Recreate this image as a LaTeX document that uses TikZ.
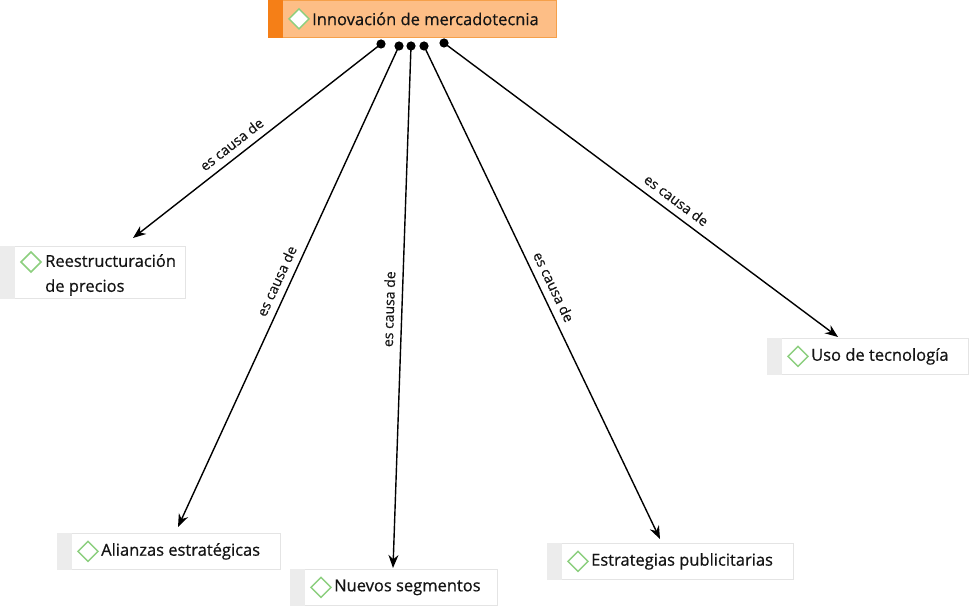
\documentclass[tikz,border=0pt]{standalone}
\usepackage{fontspec}
\setmainfont{Open Sans}
\newfontfamily\nodefont{Open Sans}[FakeBold=0.6]
\newfontfamily\labelfont{Open Sans}[FakeBold=0.4]
\usetikzlibrary{arrows.meta}
\definecolor{orlight}{HTML}{FDBE86}
\definecolor{orline}{HTML}{F5A04A}
\definecolor{ordark}{HTML}{F57F17}
\definecolor{stripgray}{HTML}{ECECEC}
\definecolor{boxline}{HTML}{E4E4E4}
\definecolor{diamgreen}{HTML}{8CCF7E}
\definecolor{txt}{HTML}{141414}
\tikzset{
 conbox/.style={draw=boxline, fill=white, line width=0.8pt, anchor=north west, inner sep=0pt},
 contxt/.style={anchor=west, inner sep=0pt, font=\nodefont\fontsize{16.5}{20}\selectfont, text=txt},
 lbltxt/.style={font=\labelfont\fontsize{14}{16}\selectfont, text=txt, sloped, above=7pt, inner sep=0pt},
 link/.style={line width=1.4pt, -{Stealth[length=13pt,width=10pt]}},
 diam/.style={draw=diamgreen, fill=white, line width=1.5pt, line join=miter}
}
\newcommand\diamondat[1]{\draw[diam] (#1) +(-10,0) -- +(0,10) -- +(10,0) -- +(0,-10) -- cycle;}
\newcommand\stripat[1]{\fill[stripgray] (#1.north west) rectangle ([xshift=15pt]#1.south west);}
\begin{document}
\begin{tikzpicture}[x=1pt,y=-1pt]
\useasboundingbox (0,0) rectangle (969,609);

% top concept
\node[conbox, draw=orline, fill=orlight, minimum width=288pt, minimum height=37pt] (top) at (268,0) {};
\fill[ordark] (top.north west) rectangle ([xshift=15pt]top.south west);
\diamondat{[xshift=31pt]top.west}
\node[contxt] (topt) at ([xshift=44pt]top.west) {Innovación de mercadotecnia};

% Reestructuracion
\node[conbox, minimum width=185pt, minimum height=52pt] (reest) at (0,246) {};
\stripat{reest}
\diamondat{31,262}
\node[contxt, align=left, font=\nodefont\fontsize{16.5}{25}\selectfont] (reestt) at (45,275) {Reestructuración\\de precios};

% Uso de tecnologia
\node[conbox, minimum width=201pt, minimum height=36pt] (uso) at (767,338) {};
\stripat{uso}
\diamondat{[xshift=31pt]uso.west}
\node[contxt] (usot) at ([xshift=44pt]uso.west) {Uso de tecnología};

% Alianzas
\node[conbox, minimum width=223pt, minimum height=36pt] (ali) at (57,533) {};
\stripat{ali}
\diamondat{[xshift=31pt]ali.west}
\node[contxt] (alit) at ([xshift=44pt]ali.west) {Alianzas estratégicas};

% Nuevos segmentos
\node[conbox, minimum width=207pt, minimum height=36pt] (nue) at (290,569) {};
\stripat{nue}
\diamondat{[xshift=31pt]nue.west}
\node[contxt] (nuet) at ([xshift=44pt]nue.west) {Nuevos segmentos};

% Estrategias publicitarias
\node[conbox, minimum width=246pt, minimum height=36pt] (est) at (547,543) {};
\stripat{est}
\diamondat{[xshift=31pt]est.west}
\node[contxt] (estt) at ([xshift=44pt]est.west) {Estrategias publicitarias};

% connector ends
\coordinate (s1) at (381,44);
\coordinate (s2) at (399,46);
\coordinate (s3) at (411,46);
\coordinate (s4) at (424,46);
\coordinate (s5) at (444,43);
\coordinate (t1) at (133,238);
\coordinate (t2) at (178,527);
\coordinate (t3) at (393,568);
\coordinate (t4) at (660,539);
\coordinate (t5) at (838,337);

\draw[link] (s1) -- node[lbltxt, pos=0.57] {es causa de} (t1);
\draw[link] (s2) -- node[lbltxt, pos=0.5] {es causa de} (t2);
\draw[link] (s3) -- node[lbltxt, pos=0.505] {es causa de} (t3);
\draw[link] (s4) -- node[lbltxt, pos=0.5] {es causa de} (t4);
\draw[link] (s5) -- node[lbltxt, pos=0.57] {es causa de} (t5);

\foreach \s in {s1,s2,s3,s4,s5} \fill (\s) circle[radius=4.6];
\end{tikzpicture}
\end{document}
